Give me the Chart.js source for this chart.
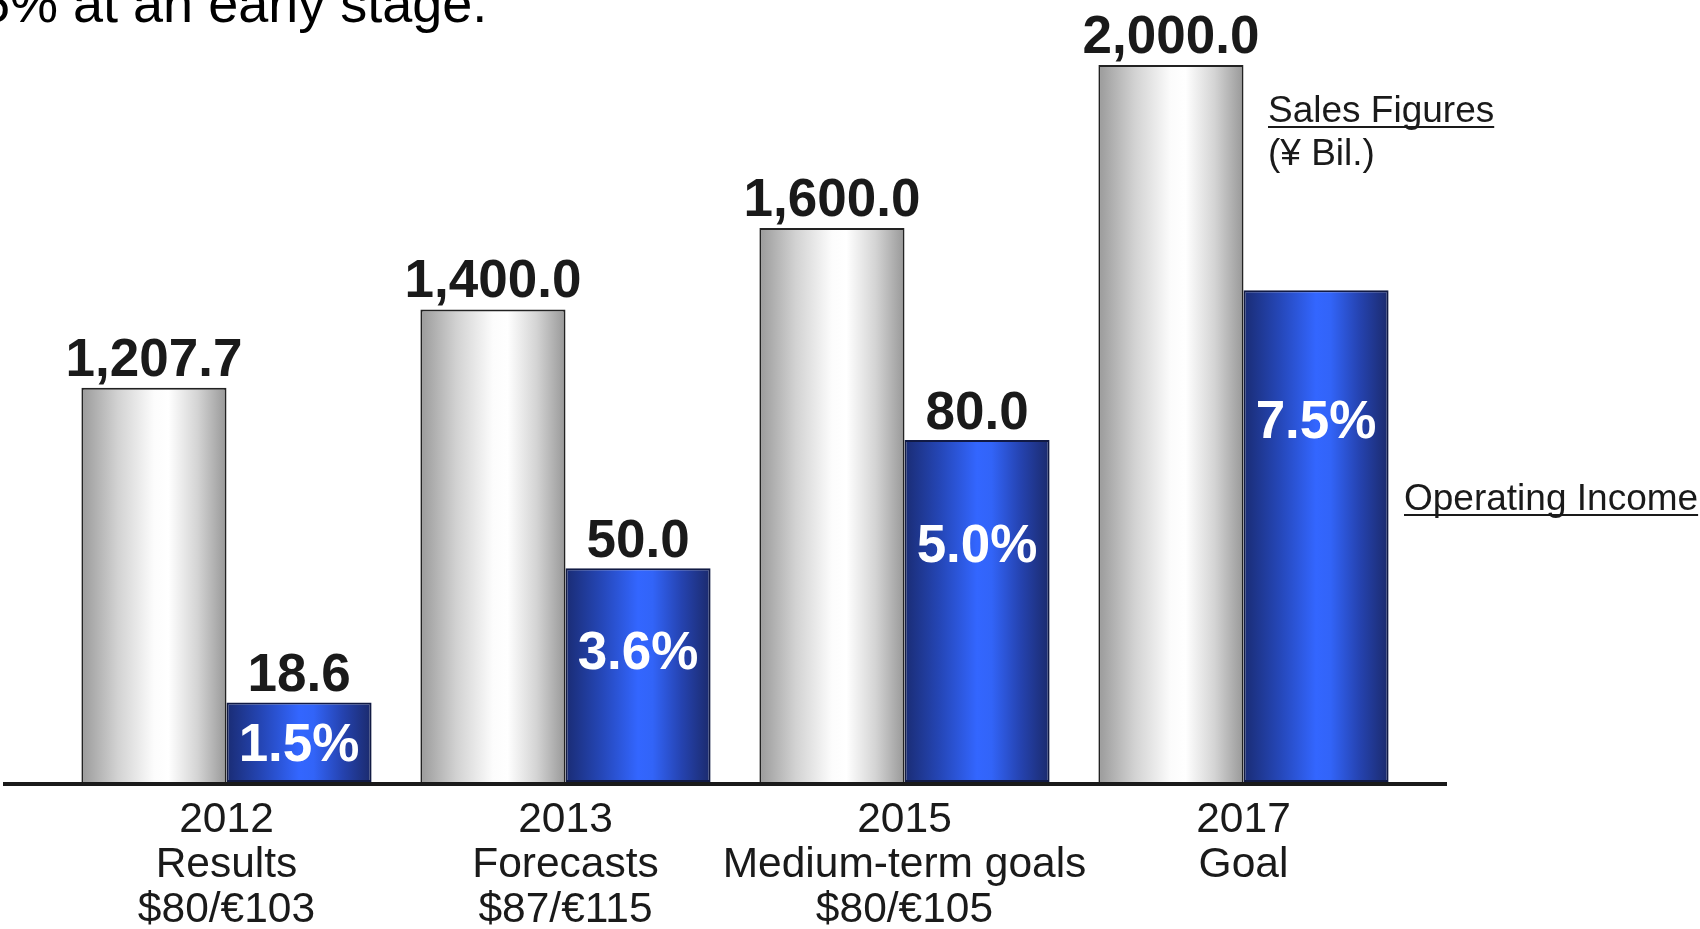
<!DOCTYPE html>
<html>
<head>
<meta charset="utf-8">
<script src="https://cdn.jsdelivr.net/npm/chart.js@4.4.1/dist/chart.umd.min.js"></script>
<style>
  html, body { margin: 0; padding: 0; background: #fff; }
  #wrap { width: 1700px; height: 929px; position: relative; }
</style>
</head>
<body>
<div id="wrap"><canvas id="salesChart"></canvas></div>
<script>
    const years = ['2012', '2013', '2015', '2017'];
    const stages = ['Results', 'Forecasts', 'Medium-term goals', 'Goal'];
    const rates = ['$80/€103', '$87/€115', '$80/€105', ''];
    const sales = [1207.7, 1400.0, 1600.0, 2000.0];
    const operatingIncome = [18.6, 50.0, 80.0, 115];
    const incomeLabels = ['18.6', '50.0', '80.0', ''];
    const margins = ['1.5%', '3.6%', '5.0%', '7.5%'];

    const FONT = '"Liberation Sans", Arial, Helvetica, sans-serif';
    const CAT_PCT = 0.856;

    const grayStops = [[0, '#9a9a9a'], [0.25, '#d2d2d2'], [0.5, '#fcfcfc'], [0.6, '#ffffff'], [0.8, '#d4d4d4'], [1, '#989898']];
    const blueStops = [[0, '#1a2c74'], [0.25, '#2547b8'], [0.5, '#3366ff'], [0.6, '#3264f8'], [0.8, '#2543b0'], [1, '#1b2a6c']];

    // horizontal gradient across each bar, left bar = gray, right bar = blue
    function barFill(stops, side) {
        return function(context) {
            const chart = context.chart;
            const area = chart.chartArea;
            if (!area || context.dataIndex === undefined) return stops[2][1];
            const xs = chart.scales.x;
            const w = (area.right - area.left) / years.length * CAT_PCT / 2;
            const c = xs.getPixelForValue(context.dataIndex);
            const left = side === 0 ? c - w : c;
            const g = chart.ctx.createLinearGradient(left, 0, left + w, 0);
            stops.forEach(s => g.addColorStop(s[0], s[1]));
            return g;
        };
    }

    const labelPlugin = {
        id: 'labelPlugin',
        afterDatasetsDraw(chart) {
            const ctx = chart.ctx;
            const area = chart.chartArea;
            const salesMeta = chart.getDatasetMeta(0);
            const incomeMeta = chart.getDatasetMeta(1);

            // baseline
            ctx.save();
            ctx.fillStyle = '#1a1a1a';
            ctx.fillRect(3, area.bottom, 1444, 4);

            ctx.textAlign = 'center';
            ctx.textBaseline = 'alphabetic';
            ctx.font = 'bold 53px ' + FONT;
            ctx.fillStyle = '#1a1a1a';
            salesMeta.data.forEach((bar, i) => {
                const txt = sales[i].toLocaleString('en-US', { minimumFractionDigits: 1, maximumFractionDigits: 1 });
                ctx.fillText(txt, bar.x, bar.y - 12);
            });
            incomeMeta.data.forEach((bar, i) => {
                if (incomeLabels[i]) ctx.fillText(incomeLabels[i], bar.x, bar.y - 11);
            });

            ctx.fillStyle = '#ffffff';
            incomeMeta.data.forEach((bar, i) => {
                const h = bar.base - bar.y;
                const cy = bar.y + Math.min(h / 2, 0.17 * h + 45);
                ctx.fillText(margins[i], bar.x, cy + 19);
            });
            ctx.restore();
        },
        afterDraw(chart) {
            const ctx = chart.ctx;
            const area = chart.chartArea;
            const xs = chart.scales.x;
            ctx.save();
            ctx.fillStyle = '#1a1a1a';
            ctx.textAlign = 'center';
            ctx.textBaseline = 'alphabetic';
            ctx.font = '42.5px ' + FONT;
            years.forEach((yr, i) => {
                const x = xs.getPixelForValue(i);
                ctx.fillText(yr, x, area.bottom + 50);
                ctx.fillText(stages[i], x, area.bottom + 95);
                if (rates[i]) ctx.fillText(rates[i], x, area.bottom + 140);
            });

            // series captions
            ctx.textAlign = 'left';
            ctx.font = '37px ' + FONT;
            const cap = (txt, x, y, underline) => {
                ctx.fillText(txt, x, y);
                if (underline) {
                    const w = ctx.measureText(txt).width;
                    ctx.fillRect(x, y + 4, w, 2);
                }
            };
            cap('Sales Figures', 1268, 122, true);
            cap('(¥ Bil.)', 1268, 165, false);
            cap('Operating Income', 1404, 510, true);

            // cut-off sentence from the slide above
            ctx.fillStyle = '#000000';
            ctx.font = '54px ' + FONT;
            ctx.fillText('5% at an early stage.', -20, 22);
            ctx.restore();
        }
    };

    new Chart(document.getElementById('salesChart'), {
        type: 'bar',
        data: {
            labels: years,
            datasets: [{
                label: 'Sales Figures (¥ Bil.)',
                data: sales,
                yAxisID: 'y',
                backgroundColor: barFill(grayStops, 0),
                borderColor: '#222222',
                borderWidth: 2,
                borderSkipped: false,
                categoryPercentage: CAT_PCT,
                barPercentage: 1
            }, {
                label: 'Operating Income',
                data: operatingIncome,
                yAxisID: 'y2',
                backgroundColor: barFill(blueStops, 1),
                borderColor: '#111a44',
                borderWidth: 2,
                borderSkipped: false,
                categoryPercentage: CAT_PCT,
                barPercentage: 1
            }]
        },
        options: {
            responsive: true,
            maintainAspectRatio: false,
            devicePixelRatio: 1,
            animation: false,
            events: [],
            layout: {
                padding: { left: 57, right: 287, top: 21, bottom: 147 }
            },
            plugins: {
                legend: { display: false },
                tooltip: { enabled: false }
            },
            scales: {
                x: { display: false },
                y: { display: false, min: 240, max: 2108 },
                y2: { display: false, position: 'right', min: 0, max: 178 }
            }
        },
        plugins: [labelPlugin]
    });
</script>
</body>
</html>
